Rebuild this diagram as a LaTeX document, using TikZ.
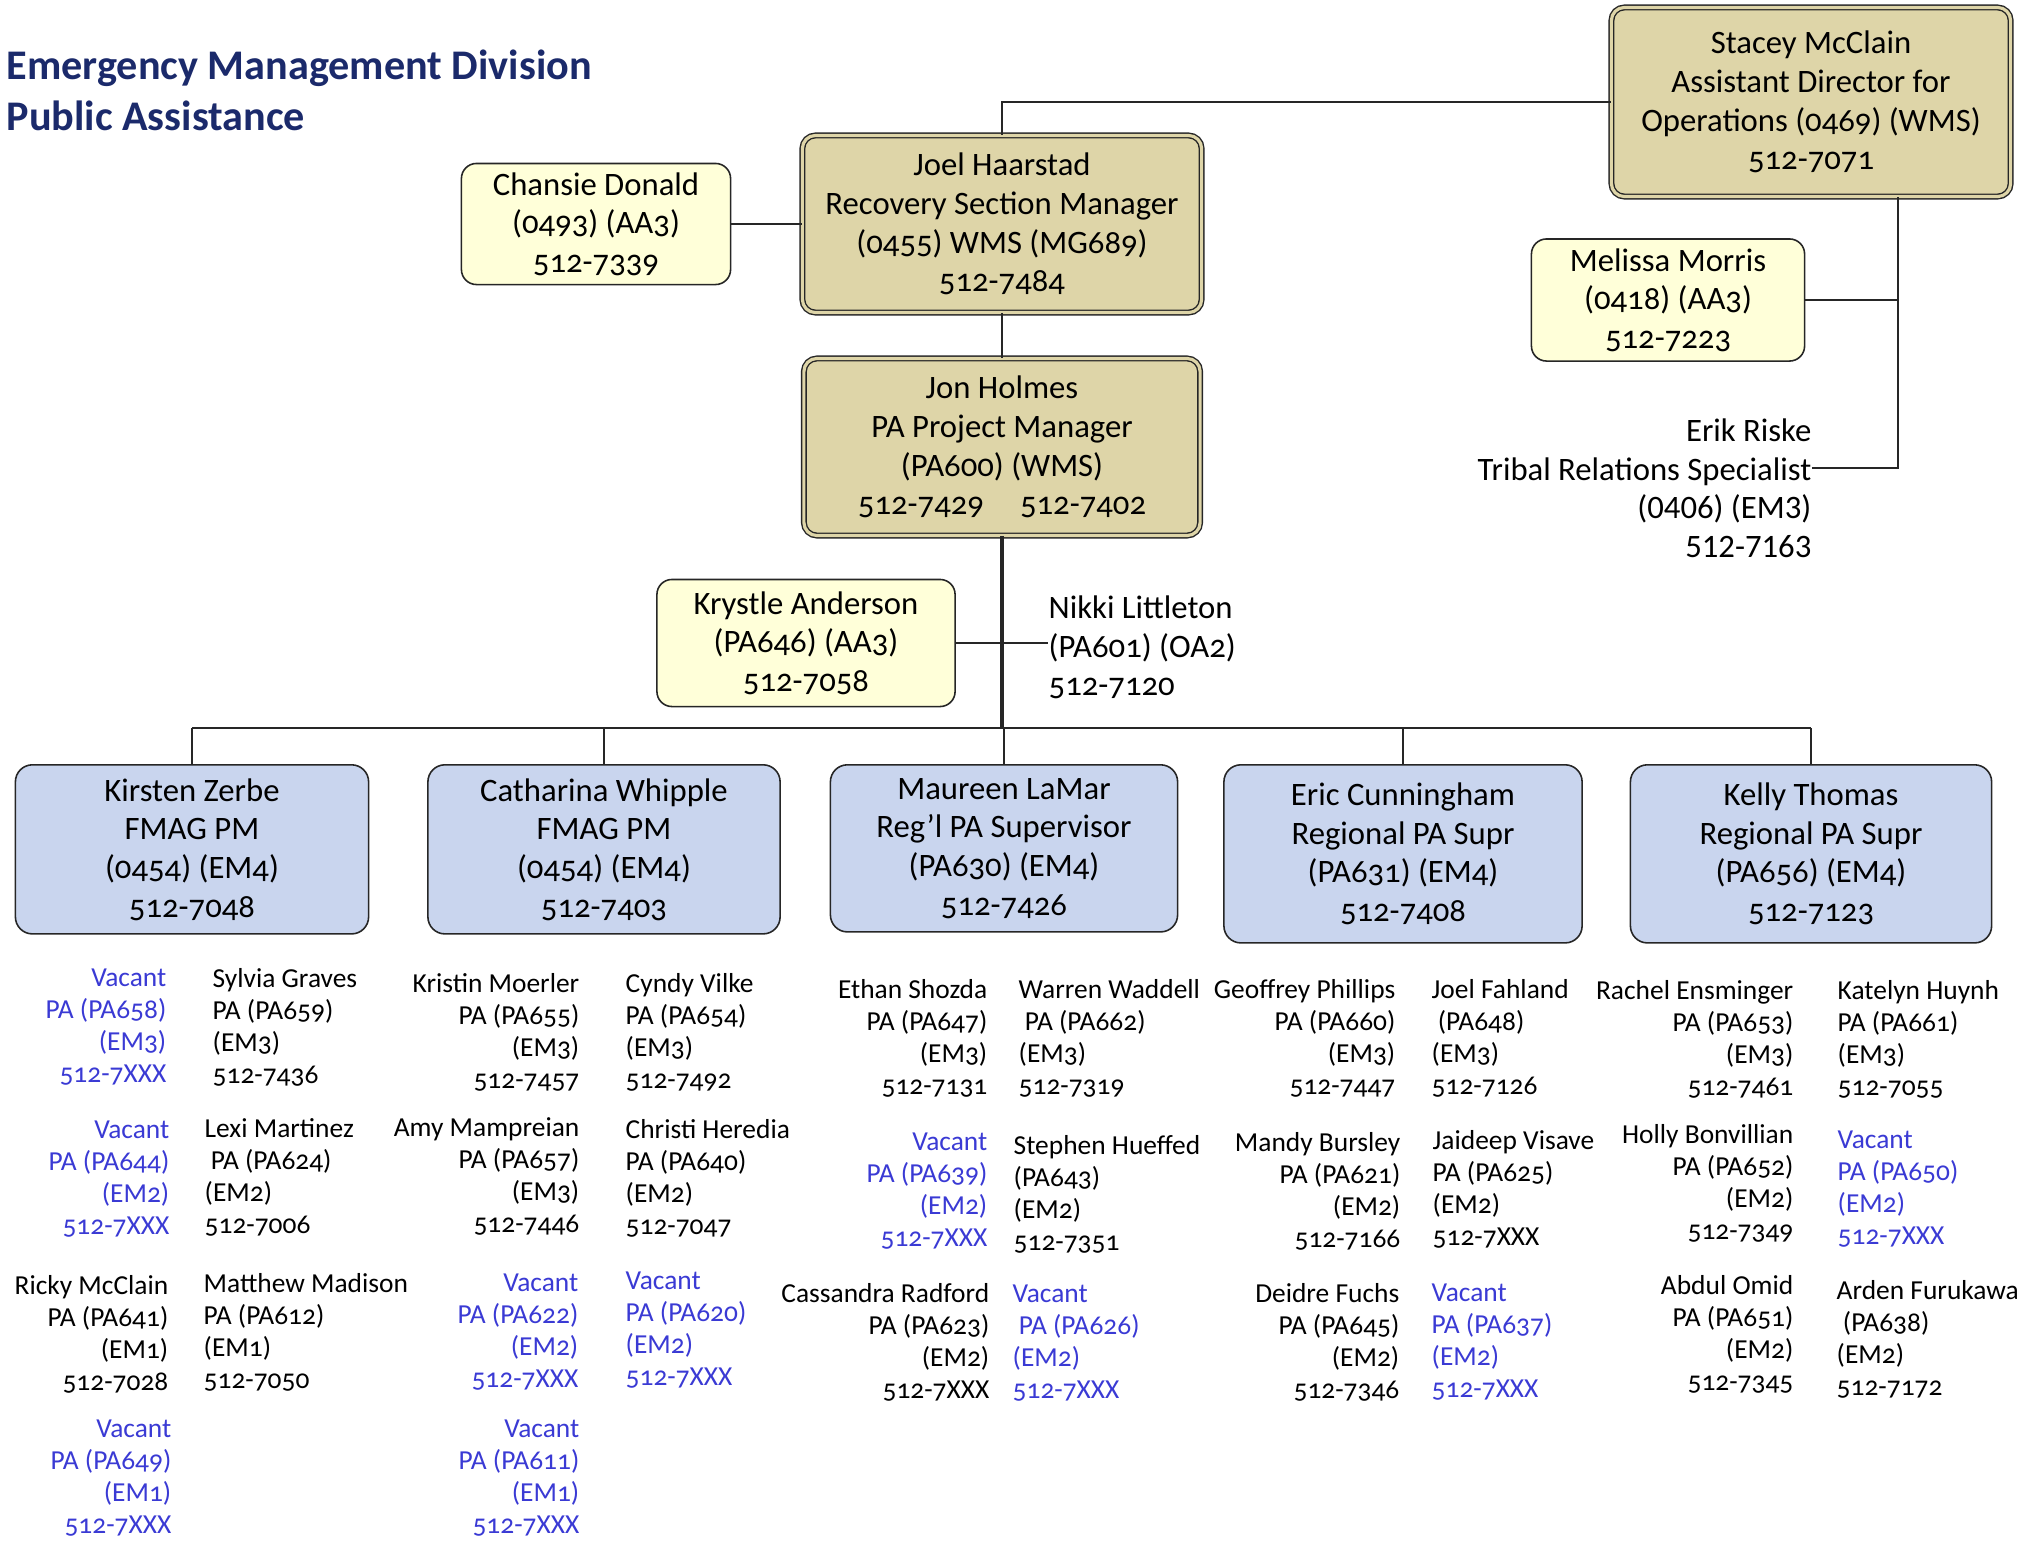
\documentclass[tikz,border=0pt]{standalone}
\usepackage{fontspec}
\setmainfont{Carlito}[Numbers=OldStyle]
\newfontfamily\liningfont{Carlito}[Numbers=Lining]
\usepackage{tikz}
\usetikzlibrary{calc}
\definecolor{tanbox}{RGB}{222,213,168}
\definecolor{creambox}{RGB}{255,255,217}
\definecolor{bluebox}{RGB}{201,213,238}
\definecolor{vacantblue}{RGB}{58,58,212}
\definecolor{titleblue}{RGB}{27,42,107}
\newcommand{\boxfont}{\fontsize{9.3}{11}\selectfont}
\newcommand{\stafffont}{\fontsize{7.8}{9.1}\selectfont}
\newcommand{\titlefont}{\fontsize{12}{14.5}\selectfont\bfseries}
\tikzset{manager/.style={draw=black!85, line width=0.4pt, double=tanbox, double distance=0.9pt, fill=tanbox, rounded corners=0.13cm, align=center, font=\boxfont, inner sep=0}}
\tikzset{assistant/.style={draw=black!85, line width=0.45pt, fill=creambox, rounded corners=0.15cm, align=center, font=\boxfont, inner sep=0}}
\tikzset{lead/.style={draw=black!85, line width=0.45pt, fill=bluebox, rounded corners=0.17cm, align=center, font=\boxfont, inner sep=0, anchor=north}}
\tikzset{loose/.style={font=\boxfont, inner sep=0}}
\tikzset{staff left/.style={anchor=north east, align=right, font=\stafffont, inner sep=0}}
\tikzset{staff right/.style={anchor=north west, align=left, font=\stafffont, inner sep=0}}
\tikzset{vacant/.style={text=vacantblue}}
\tikzset{link/.style={draw=black!85, line width=0.55pt}}

\begin{document}
\begin{tikzpicture}[x=0.01cm, y=-0.01cm]
  \useasboundingbox (0, 0) rectangle (2028, 1551);

  \node[anchor=base west, text=titleblue, font=\titlefont, inner sep=0] at (6, 79) (division) {Emergency Management Division};
  \node[anchor=base west, text=titleblue, font=\titlefont, inner sep=0] at (6, 130) (program) {Public Assistance};

  % top of the chart
  \node[manager, minimum width=3.99cm, minimum height=1.89cm] at (1811, 102) (stacey) {Stacey McClain\\Assistant Director for\\Operations (0469) (WMS)\\512-7071};
  \node[manager, minimum width=3.99cm, minimum height=1.77cm] at (1002, 224) (joel) {Joel Haarstad\\Recovery Section Manager\\(0455) WMS (MG689)\\512-7484};
  \node[assistant, minimum width=2.69cm, minimum height=1.21cm] at (596, 224) (chansie) {Chansie Donald\\(0493) (AA3)\\512-7339};
  \node[assistant, minimum width=2.73cm, minimum height=1.22cm] at (1668, 300) (melissa) {Melissa Morris\\(0418) (AA3)\\512-7223};
  \node[manager, minimum width=3.96cm, minimum height=1.77cm] at (1002, 447) (jon) {Jon Holmes\\PA Project Manager\\(PA600) (WMS)\\512-7429\hspace{1.1em}512-7402};
  \node[loose, anchor=north east, align=right, font=\boxfont\liningfont] at (1812, 418) (erik) {Erik Riske\\Tribal Relations Specialist\\(0406) (EM3)\\512-7163};
  \coordinate (tribal) at (1812, 468);
  \coordinate (ops) at (1898, 0);

  \node[assistant, minimum width=2.98cm, minimum height=1.27cm] at (806, 643) (krystle) {Krystle Anderson\\(PA646) (AA3)\\512-7058};
  \node[loose, anchor=north west, align=left] at (1048, 595) (nikki) {Nikki Littleton\\(PA601) (OA2)\\512-7120};
  \coordinate (bus) at (0, 728);

  % section leads
  \node[lead, minimum width=3.53cm, minimum height=1.69cm] at (192, 764) (kirsten) {Kirsten Zerbe\\FMAG PM\\(0454) (EM4)\\512-7048};
  \node[lead, minimum width=3.52cm, minimum height=1.69cm] at (604, 764) (catharina) {Catharina Whipple\\FMAG PM\\(0454) (EM4)\\512-7403};
  \node[lead, minimum width=3.47cm, minimum height=1.67cm] at (1004, 764) (maureen) {Maureen LaMar\\Reg'l PA Supervisor\\(PA630) (EM4)\\512-7426};
  \node[lead, minimum width=3.58cm, minimum height=1.78cm] at (1403, 764) (eric) {Eric Cunningham\\Regional PA Supr\\(PA631) (EM4)\\512-7408};
  \node[lead, minimum width=3.61cm, minimum height=1.78cm] at (1811, 764) (kelly) {Kelly Thomas\\Regional PA Supr\\(PA656) (EM4)\\512-7123};

  \draw[link] (stacey.west) -| (joel.north);
  \draw[link] (chansie) -- (joel);
  \draw[link] (joel) -- (jon);
  \draw[link] (stacey.south -| ops) -- (tribal -| ops) -- (tribal);
  \draw[link] (melissa) -- (melissa -| ops);
  \draw[link, line width=1.2pt] (jon) -- (jon |- bus);
  \draw[link] (krystle) -- (krystle -| nikki.west);
  \draw[link, line width=0.8pt] (kirsten.north |- bus) -- (kelly.north |- bus);
  \foreach \lead in {kirsten, catharina, maureen, eric, kelly}
    \draw[link] (\lead.north |- bus) -- (\lead.north);

  % FMAG staff
  \node[staff left, vacant] at (167, 968) (vac658) {Vacant\\PA (PA658)\\(EM3)\\512-7XXX};
  \node[staff right] at (212, 968) (sylvia) {Sylvia Graves\\PA (PA659)\\(EM3)\\512-7436};
  \node[staff left, vacant] at (170, 1120) (vac644) {Vacant\\PA (PA644)\\(EM2)\\512-7XXX};
  \node[staff right] at (204, 1118) (lexi) {Lexi Martinez\\\ PA (PA624)\\(EM2)\\512-7006};
  \node[staff left] at (169, 1275) (ricky) {Ricky McClain\\PA (PA641)\\(EM1)\\512-7028};
  \node[staff right] at (203, 1273) (matthew) {Matthew Madison\\PA (PA612)\\(EM1)\\512-7050};
  \node[staff left, vacant] at (172, 1419) (vac649) {Vacant\\PA (PA649)\\(EM1)\\512-7XXX};

  \node[staff left] at (580, 973) (kristin) {Kristin Moerler\\PA (PA655)\\(EM3)\\512-7457};
  \node[staff right] at (625, 973) (cyndy) {Cyndy Vilke\\PA (PA654)\\(EM3)\\512-7492};
  \node[staff left] at (580, 1117) (amy) {Amy Mampreian\\PA (PA657)\\(EM3)\\512-7446};
  \node[staff right] at (625, 1119) (christi) {Christi Heredia\\PA (PA640)\\(EM2)\\512-7047};
  \node[staff left, vacant] at (579, 1273) (vac622) {Vacant\\PA (PA622)\\(EM2)\\512-7XXX};
  \node[staff right, vacant] at (625, 1271) (vac620) {Vacant\\PA (PA620)\\(EM2)\\512-7XXX};
  \node[staff left, vacant] at (580, 1419) (vac611) {Vacant\\PA (PA611)\\(EM1)\\512-7XXX};

  % regional staff
  \node[staff left] at (988, 979) (ethan) {Ethan Shozda\\PA (PA647)\\(EM3)\\512-7131};
  \node[staff right] at (1018, 979) (warren) {Warren Waddell\\\ PA (PA662)\\(EM3)\\512-7319};
  \node[staff left, vacant] at (988, 1132) (vac639) {Vacant\\PA (PA639)\\(EM2)\\512-7XXX};
  \node[staff right] at (1013, 1135) (stephen) {Stephen Hueffed\\(PA643)\\(EM2)\\512-7351};
  \node[staff left] at (990, 1283) (cassandra) {Cassandra Radford\\PA (PA623)\\(EM2)\\512-7XXX};
  \node[staff right, vacant] at (1012, 1284) (vac626) {Vacant\\\ PA (PA626)\\(EM2)\\512-7XXX};

  \node[staff left] at (1396, 979) (geoffrey) {Geoffrey Phillips\\PA (PA660)\\(EM3)\\512-7447};
  \node[staff right] at (1431, 979) (fahland) {Joel Fahland\\\ (PA648)\\(EM3)\\512-7126};
  \node[staff left] at (1401, 1132) (mandy) {Mandy Bursley\\PA (PA621)\\(EM2)\\512-7166};
  \node[staff right] at (1432, 1130) (jaideep) {Jaideep Visave\\PA (PA625)\\(EM2)\\512-7XXX};
  \node[staff left] at (1400, 1283) (deidre) {Deidre Fuchs\\PA (PA645)\\(EM2)\\512-7346};
  \node[staff right, vacant] at (1431, 1283) (vac637) {Vacant\\PA (PA637)\\(EM2)\\512-7XXX};

  \node[staff left] at (1794, 980) (rachel) {Rachel Ensminger\\PA (PA653)\\(EM3)\\512-7461};
  \node[staff right] at (1837, 980) (katelyn) {Katelyn Huynh\\PA (PA661)\\(EM3)\\512-7055};
  \node[staff left] at (1794, 1124) (holly) {Holly Bonvillian\\PA (PA652)\\(EM2)\\512-7349};
  \node[staff right, vacant] at (1837, 1130) (vac650) {Vacant\\PA (PA650)\\(EM2)\\512-7XXX};
  \node[staff left] at (1794, 1275) (abdul) {Abdul Omid\\PA (PA651)\\(EM2)\\512-7345};
  \node[staff right] at (1836, 1280) (arden) {Arden Furukawa\\\ (PA638)\\(EM2)\\512-7172};
\end{tikzpicture}
\end{document}
